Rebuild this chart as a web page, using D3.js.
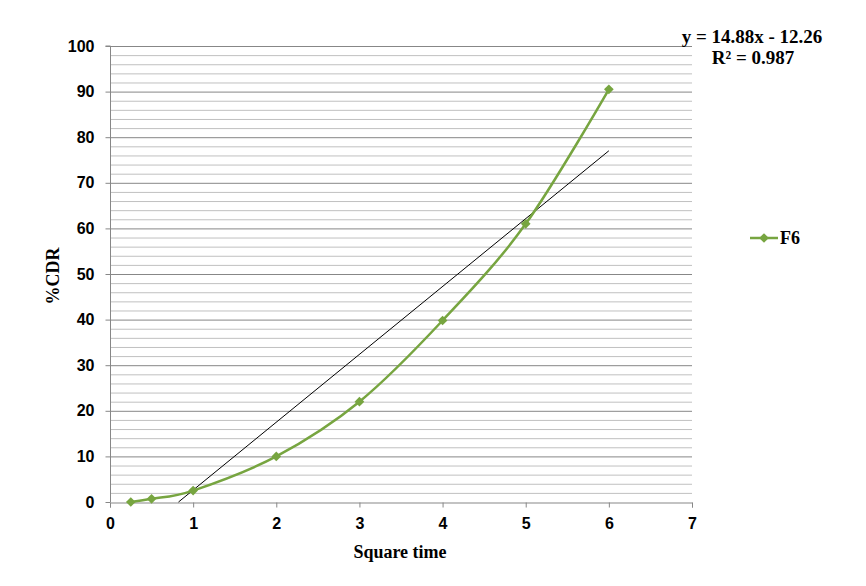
<!DOCTYPE html>
<html><head><meta charset="utf-8">
<script src="https://cdn.jsdelivr.net/npm/d3@7"></script>
<style>body{margin:0;background:#fff}</style>
</head><body>
<svg id="c" width="866" height="586"></svg>
<script>
const seriesName = "F6";
const xValues = [0.25, 0.5, 1, 2, 3, 4, 5, 6];
const yValues = [0, 0.7, 2.5, 10, 22, 39.8, 61, 90.5];
const xTicks = [0,1,2,3,4,5,6,7];
const yTicks = [0,10,20,30,40,50,60,70,80,90,100];
const yMinorTicks = d3.range(0, 101, 2);
const slope = 14.88, intercept = -12.26;
const eqText = "y = 14.88x - 12.26";
const r2Text = "R² = 0.987";

const svg = d3.select("#c");
const x = d3.scaleLinear().domain([0,7]).range([110,692]);
const y = d3.scaleLinear().domain([0,100]).range([502,46]);
const green = "#77A540";

// minor gridlines
svg.append("g").selectAll("line").data(yMinorTicks.filter(v=>v%10!==0)).join("line")
  .attr("x1", x(0)).attr("x2", x(7)).attr("y1", d=>y(d)+0.5).attr("y2", d=>y(d)+0.5)
  .attr("stroke", "#c0c0c0").attr("stroke-width", 1);
// major gridlines
svg.append("g").selectAll("line").data(yTicks.filter(v=>v>0)).join("line")
  .attr("x1", x(0)).attr("x2", x(7)).attr("y1", d=>y(d)+0.5).attr("y2", d=>y(d)+0.5)
  .attr("stroke", "#878787").attr("stroke-width", 1);

// axes
const yAxis = d3.axisLeft(y).tickValues(yTicks).tickSize(5).tickPadding(11).tickFormat(d3.format("d"));
const xAxis = d3.axisBottom(x).tickValues(xTicks).tickSize(5).tickPadding(10).tickFormat(d3.format("d"));
const gy = svg.append("g").attr("transform", `translate(${x(0)+0.5},0)`).call(yAxis);
const gx = svg.append("g").attr("transform", `translate(0,${y(0)+0.5})`).call(xAxis);
[gx, gy].forEach(g => {
  g.select(".domain").attr("stroke", "#878787");
  g.selectAll(".tick line").attr("stroke", "#878787");
  g.selectAll("text").attr("font-family", "Liberation Sans, Arial, sans-serif")
    .attr("font-weight", "bold").attr("font-size", 16).attr("fill", "#000");
});
gy.select(".domain").attr("d", `M-5,${y(100)}H0V${y(0)}`);

// trendline
const tx0 = -intercept / slope, tx1 = 6;
svg.append("line").attr("x1", x(tx0)).attr("y1", y(slope*tx0+intercept))
  .attr("x2", x(tx1)).attr("y2", y(slope*tx1+intercept))
  .attr("stroke", "#000").attr("stroke-width", 1);

// series
const pts = xValues.map((v,i)=>[v, yValues[i]]);
svg.append("path").datum(pts)
  .attr("d", d3.line().x(d=>x(d[0])).y(d=>y(d[1])).curve(d3.curveCatmullRom.alpha(0)))
  .attr("fill", "none").attr("stroke", green).attr("stroke-width", 2.5);
const diamond = d3.symbol().type(d3.symbolDiamond2).size(60);
svg.append("g").selectAll("path").data(pts).join("path")
  .attr("transform", d=>`translate(${x(d[0])},${y(d[1])})`)
  .attr("d", diamond).attr("fill", green);

const serif = "Liberation Serif, Times New Roman, serif";
// legend
svg.append("line").attr("x1", 750).attr("x2", 778).attr("y1", 238).attr("y2", 238)
  .attr("stroke", green).attr("stroke-width", 2.5);
svg.append("path").attr("transform", "translate(764,238)").attr("d", diamond).attr("fill", green);
svg.append("text").attr("x", 780).attr("y", 244).text(seriesName)
  .attr("font-family", serif).attr("font-weight", "bold").attr("font-size", 18);

// axis titles
svg.append("text").attr("x", 400).attr("y", 558).attr("text-anchor", "middle").text("Square time")
  .attr("font-family", serif).attr("font-weight", "bold").attr("font-size", 18);
svg.append("text").attr("transform", "translate(59,276) rotate(-90)").attr("text-anchor", "middle").text("%CDR")
  .attr("font-family", serif).attr("font-weight", "bold").attr("font-size", 18);

// equation
svg.append("text").attr("x", 752).attr("y", 43).attr("text-anchor", "middle").text(eqText)
  .attr("font-family", serif).attr("font-weight", "bold").attr("font-size", 19);
svg.append("text").attr("x", 753).attr("y", 64).attr("text-anchor", "middle").text(r2Text)
  .attr("font-family", serif).attr("font-weight", "bold").attr("font-size", 19);
</script>
</body></html>
